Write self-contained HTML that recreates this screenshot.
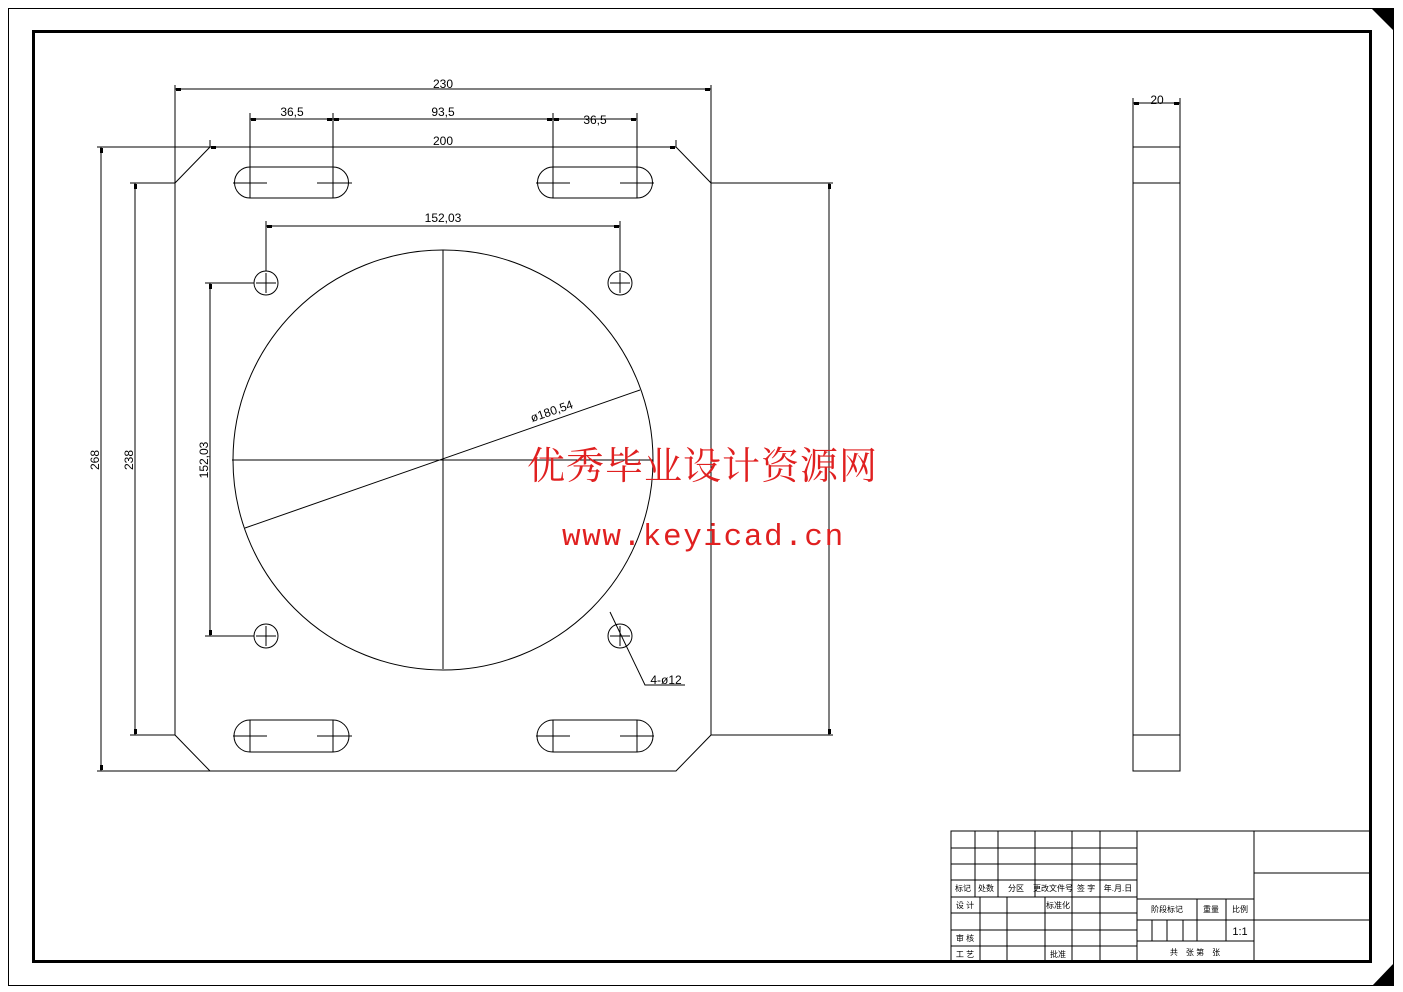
<!DOCTYPE html>
<html><head><meta charset="utf-8"><style>
html,body{margin:0;padding:0;background:#fff;}
svg{display:block;}
text{font-family:"Liberation Sans","Noto Sans CJK SC",sans-serif;}
</style></head><body>
<svg width="1403" height="992" viewBox="0 0 1403 992" xmlns="http://www.w3.org/2000/svg">
<rect x="0" y="0" width="1403" height="992" fill="#fff"/>
<rect x="8.5" y="8.5" width="1385" height="977" fill="none" stroke="#000" stroke-width="1"/>
<rect x="33.5" y="31.5" width="1337" height="930" fill="none" stroke="#000" stroke-width="3"/>
<polygon points="1371,8 1394,8 1394,31" fill="#000"/>
<polygon points="1394,963 1394,986 1372,986" fill="#000"/>

<g stroke="#000" stroke-width="1" fill="none">
<polyline points="210,147 676,147 711,183 711,735 676,771 210,771 175,735 175,183 210,147"/>
<line x1="97" y1="147" x2="210" y2="147"/>
<line x1="97" y1="771" x2="210" y2="771"/>
<line x1="130" y1="183" x2="175" y2="183"/>
<line x1="130" y1="735" x2="175" y2="735"/>
<line x1="711" y1="183" x2="833" y2="183"/>
<line x1="711" y1="735" x2="833" y2="735"/>
<line x1="175" y1="85" x2="175" y2="183"/>
<line x1="711" y1="85" x2="711" y2="183"/>
<line x1="210" y1="140" x2="210" y2="147"/>
<line x1="676" y1="140" x2="676" y2="147"/>
<line x1="175" y1="89" x2="711" y2="89"/>
<line x1="250" y1="119" x2="637" y2="119"/>
<line x1="250" y1="113" x2="250" y2="198"/>
<line x1="333" y1="113" x2="333" y2="198"/>
<line x1="553" y1="113" x2="553" y2="198"/>
<line x1="637" y1="113" x2="637" y2="198"/>
<line x1="101" y1="147" x2="101" y2="771"/>
<line x1="135" y1="183" x2="135" y2="735"/>
<line x1="829" y1="183" x2="829" y2="735"/>
<line x1="210" y1="283" x2="210" y2="636"/>
<line x1="205" y1="283" x2="254" y2="283"/>
<line x1="205" y1="636" x2="254" y2="636"/>
<line x1="266" y1="226" x2="620" y2="226"/>
<line x1="266" y1="221" x2="266" y2="271"/>
<line x1="620" y1="221" x2="620" y2="271"/>
<path d="M250,167 H333 A15.5,15.5 0 0 1 333,198 H250 A15.5,15.5 0 0 1 250,167 Z"/>
<path d="M553,167 H637 A15.5,15.5 0 0 1 637,198 H553 A15.5,15.5 0 0 1 553,167 Z"/>
<path d="M250,720 H333 A15.5,15.5 0 0 1 333,752 H250 A15.5,15.5 0 0 1 250,720 Z"/>
<path d="M553,720 H637 A15.5,15.5 0 0 1 637,752 H553 A15.5,15.5 0 0 1 553,720 Z"/>
<line x1="233" y1="183" x2="267" y2="183"/><line x1="317" y1="183" x2="352" y2="183"/>
<line x1="536" y1="183" x2="570" y2="183"/><line x1="620" y1="183" x2="654" y2="183"/>
<line x1="233" y1="736" x2="267" y2="736"/><line x1="317" y1="736" x2="352" y2="736"/>
<line x1="536" y1="736" x2="570" y2="736"/><line x1="620" y1="736" x2="654" y2="736"/>
<line x1="250" y1="720" x2="250" y2="752"/><line x1="333" y1="720" x2="333" y2="752"/>
<line x1="553" y1="720" x2="553" y2="752"/><line x1="637" y1="720" x2="637" y2="752"/>
<circle cx="266" cy="283" r="12"/><circle cx="620" cy="283" r="12"/>
<circle cx="266" cy="636" r="12"/><circle cx="620" cy="636" r="12"/>
<path d="M256,283h20M266,273v20M610,283h20M620,273v20M256,636h20M266,626v20M610,636h20M620,626v20"/>
<circle cx="443" cy="460" r="210"/>
<line x1="232" y1="460" x2="653" y2="460"/>
<line x1="443" y1="250" x2="443" y2="669"/>
<line x1="245" y1="528" x2="640" y2="390"/>
<polyline points="610,612 645,685 685,685"/>
<rect x="1133" y="147" width="47" height="624"/>
<line x1="1133" y1="183" x2="1180" y2="183"/>
<line x1="1133" y1="735" x2="1180" y2="735"/>
<line x1="1133" y1="98" x2="1133" y2="147"/>
<line x1="1180" y1="98" x2="1180" y2="147"/>
<line x1="1133" y1="103" x2="1180" y2="103"/>
</g>
<g fill="#000">
<rect x="176" y="88" width="5" height="3"/><rect x="705" y="88" width="5" height="3"/>
<rect x="251" y="118" width="5" height="3"/><rect x="327" y="118" width="5" height="3"/>
<rect x="334" y="118" width="5" height="3"/><rect x="547" y="118" width="5" height="3"/>
<rect x="554" y="118" width="5" height="3"/><rect x="631" y="118" width="5" height="3"/>
<rect x="211" y="146" width="5" height="3"/><rect x="670" y="146" width="5" height="3"/>
<rect x="100" y="148" width="3" height="5"/><rect x="100" y="765" width="3" height="5"/>
<rect x="134" y="184" width="3" height="5"/><rect x="134" y="729" width="3" height="5"/>
<rect x="828" y="184" width="3" height="5"/><rect x="828" y="729" width="3" height="5"/>
<rect x="209" y="284" width="3" height="5"/><rect x="209" y="630" width="3" height="5"/>
<rect x="267" y="225" width="5" height="3"/><rect x="614" y="225" width="5" height="3"/>
<rect x="1134" y="102" width="5" height="3"/><rect x="1174" y="102" width="5" height="3"/>
</g>
<g font-size="12" fill="#000" text-anchor="middle">
<text x="443" y="88">230</text>
<text x="292" y="116">36,5</text>
<text x="443" y="116">93,5</text>
<text x="595" y="124">36,5</text>
<text x="443" y="145">200</text>
<text x="443" y="222">152,03</text>
<text x="1157" y="104">20</text>
<text x="666" y="684">4-ø12</text>
<text transform="translate(99,460) rotate(-90)">268</text>
<text transform="translate(133,460) rotate(-90)">238</text>
<text transform="translate(208,460) rotate(-90)">152,03</text>
<text transform="translate(553,415) rotate(-19)">ø180,54</text>
</g>
<text x="527" y="479" font-size="38" letter-spacing="1" fill="#e02020" style="font-family:'Noto Serif CJK SC','Noto Sans CJK SC',serif">优秀毕业设计资源网</text>
<text x="562" y="545" font-size="31" letter-spacing="1.6" fill="#e02020" style="font-family:'Liberation Mono',monospace">www.keyicad.cn</text>

<g stroke="#000" stroke-width="1" fill="none">
<rect x="951" y="831" width="419" height="131"/>
<path d="M951,848H1137M951,864H1137M951,880H1137M951,897H1137M951,913H1137M951,930H1137M951,946H1137"/>
<path d="M975,831V897M998,831V897M1035,831V897M1072,831V897M1100,831V897M1137,831V962M1254,831V962"/>
<path d="M980,897V962M1007,897V962M1045,897V962M1072,897V962M1100,897V962"/>
<path d="M1137,899H1254M1137,920H1254M1137,941H1254"/>
<path d="M1197,899V941M1226,899V941M1152,920V941M1167,920V941M1183,920V941"/>
<path d="M1254,873H1370M1254,920H1370"/>
</g>
<g font-size="8" fill="#000" text-anchor="middle">
<text x="963" y="891">标记</text><text x="986" y="891">处数</text><text x="1016" y="891">分区</text>
<text x="1053" y="891">更改文件号</text><text x="1086" y="891">签 字</text><text x="1118" y="891">年.月.日</text>
<text x="965" y="908">设 计</text><text x="1058" y="908">标准化</text>
<text x="965" y="941">审 核</text><text x="965" y="957">工 艺</text><text x="1058" y="957">批准</text>
<text x="1167" y="912">阶段标记</text><text x="1211" y="912">重量</text><text x="1240" y="912">比例</text>
<text x="1195" y="955">共　张 第　张</text>
</g>
<text x="1240" y="935" font-size="11" text-anchor="middle" fill="#000">1:1</text>
</svg>
</body></html>
